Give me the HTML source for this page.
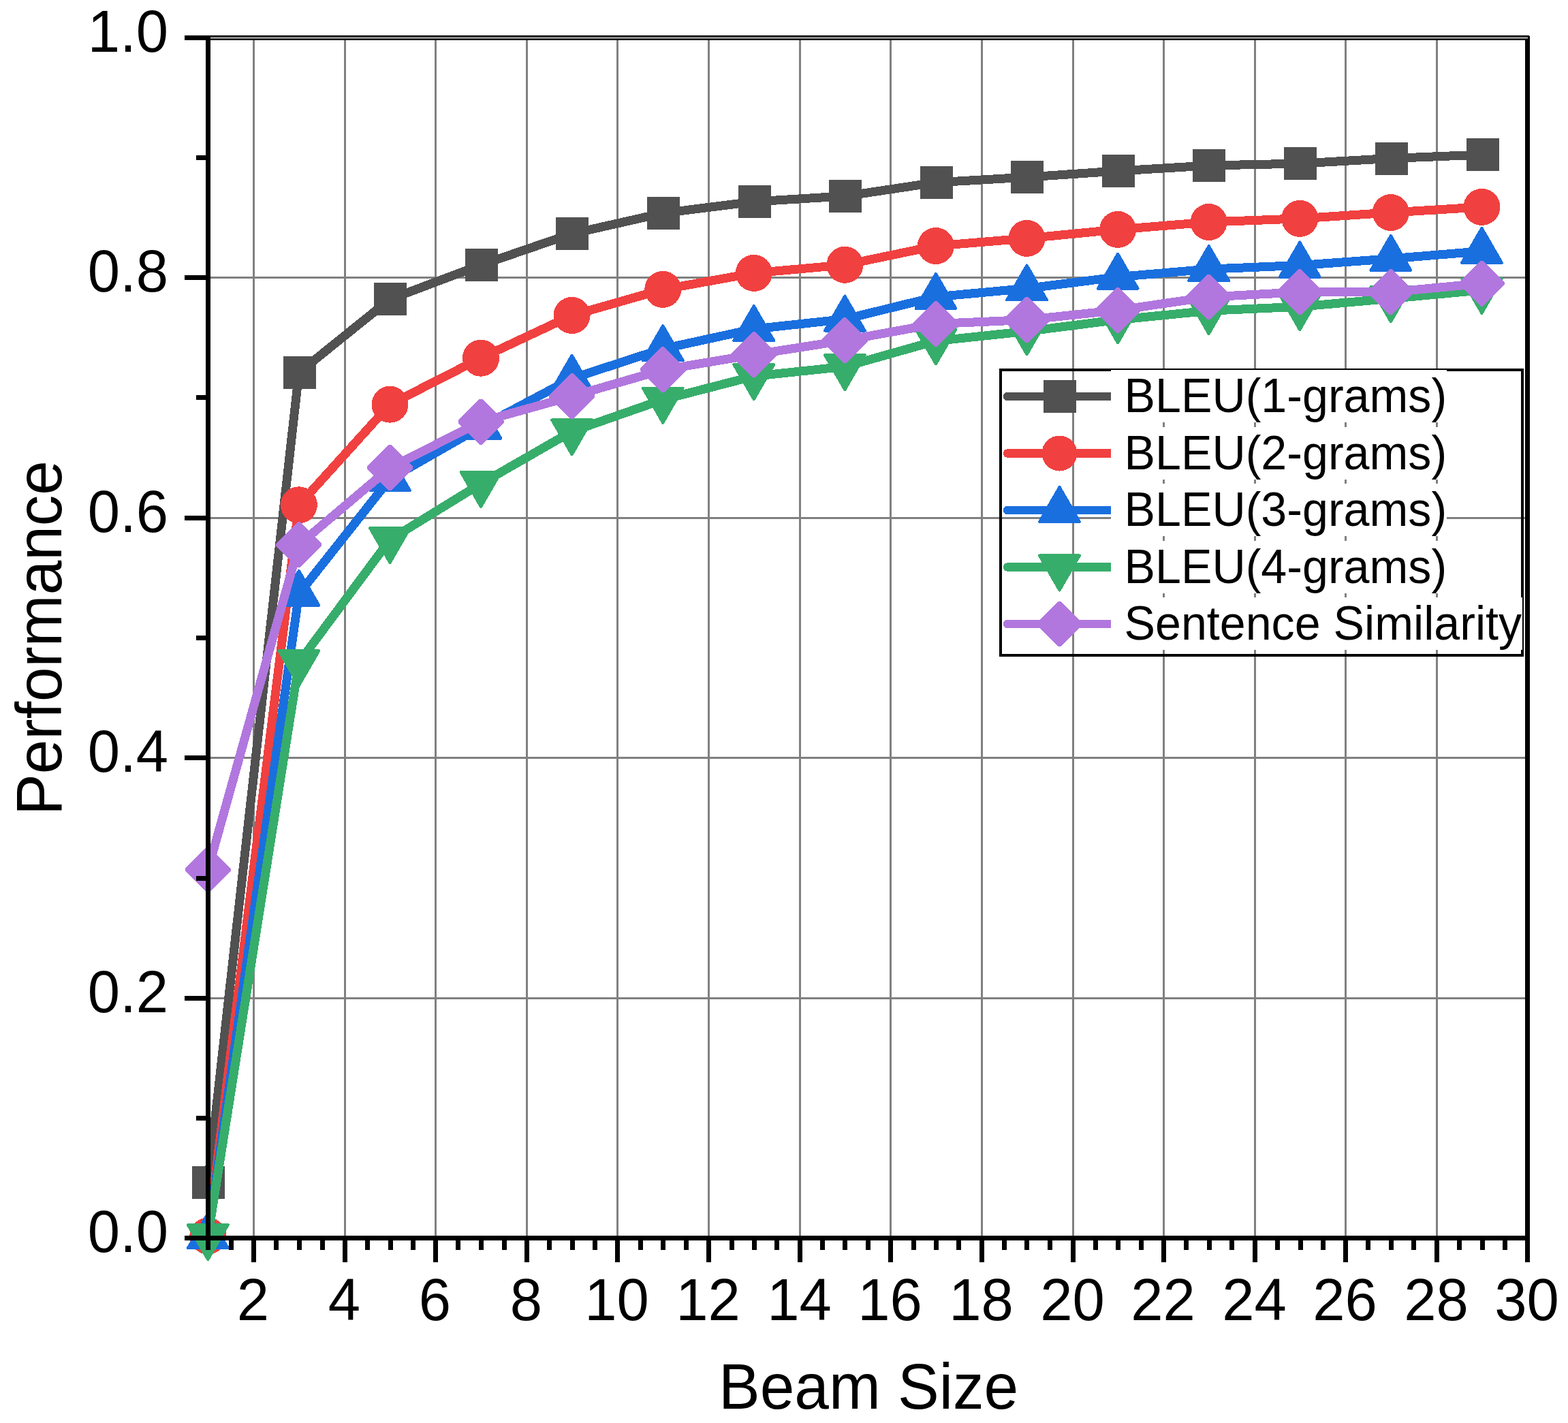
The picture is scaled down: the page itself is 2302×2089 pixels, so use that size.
<!DOCTYPE html>
<html lang="en"><head><meta charset="utf-8"><title>Performance vs Beam Size</title>
<style>
html,body{margin:0;padding:0;background:#fff;}
body{width:2302px;height:2089px;overflow:hidden;}
svg{display:block;}
text{font-family:"Liberation Sans",sans-serif;fill:#000;}
.tick{font-size:85px;}
.title{font-size:91px;}
.leg{font-size:68.2px;}
</style></head><body>
<svg width="2302" height="2089" viewBox="0 0 2302 2089" role="img" aria-label="Performance versus beam size">
<rect x="0" y="0" width="2302" height="2089" fill="#fff"/>
<g shape-rendering="crispEdges">
<rect x="271" y="52" width="1975" height="7" fill="#000"/>
<rect x="2239" y="52" width="7" height="1801" fill="#000"/>
<rect x="2245" y="52" width="1" height="1" fill="#fff"/>
<rect x="371" y="59" width="3" height="1755" fill="#808080"/>
<rect x="505" y="59" width="3" height="1755" fill="#808080"/>
<rect x="638" y="59" width="3" height="1755" fill="#808080"/>
<rect x="772" y="59" width="3" height="1755" fill="#808080"/>
<rect x="905" y="59" width="3" height="1755" fill="#808080"/>
<rect x="1039" y="59" width="3" height="1755" fill="#808080"/>
<rect x="1173" y="59" width="3" height="1755" fill="#808080"/>
<rect x="1306" y="59" width="3" height="1755" fill="#808080"/>
<rect x="1440" y="59" width="3" height="1755" fill="#808080"/>
<rect x="1574" y="59" width="3" height="1755" fill="#808080"/>
<rect x="1707" y="59" width="3" height="1755" fill="#808080"/>
<rect x="1841" y="59" width="3" height="1755" fill="#808080"/>
<rect x="1974" y="59" width="3" height="1755" fill="#808080"/>
<rect x="2108" y="59" width="3" height="1755" fill="#808080"/>
<rect x="309" y="1464" width="1930" height="3" fill="#808080"/>
<rect x="309" y="1111" width="1930" height="3" fill="#808080"/>
<rect x="309" y="759" width="1930" height="3" fill="#808080"/>
<rect x="309" y="406" width="1930" height="3" fill="#808080"/>
<rect x="309" y="54" width="1934" height="3" fill="#888"/>
</g>
<g shape-rendering="crispEdges">
<polyline points="305.3,1736.0 438.9,546.9 572.5,439.3 706.0,389.0 839.6,343.1 973.2,312.9 1106.8,296.0 1240.4,287.9 1373.9,267.9 1507.5,260.1 1641.1,251.0 1774.7,243.0 1908.3,240.1 2041.8,232.5 2175.4,227.1" fill="none" stroke="#515151" stroke-width="13" stroke-linejoin="round" stroke-linecap="round"/>
<rect x="282.0" y="1712.0" width="48" height="48" fill="#515151"/>
<rect x="415.6" y="522.9" width="48" height="48" fill="#515151"/>
<rect x="549.2" y="415.3" width="48" height="48" fill="#515151"/>
<rect x="682.7" y="365.0" width="48" height="48" fill="#515151"/>
<rect x="816.3" y="319.1" width="48" height="48" fill="#515151"/>
<rect x="949.9" y="288.9" width="48" height="48" fill="#515151"/>
<rect x="1083.5" y="272.0" width="48" height="48" fill="#515151"/>
<rect x="1217.1" y="263.9" width="48" height="48" fill="#515151"/>
<rect x="1350.6" y="243.9" width="48" height="48" fill="#515151"/>
<rect x="1484.2" y="236.1" width="48" height="48" fill="#515151"/>
<rect x="1617.8" y="227.0" width="48" height="48" fill="#515151"/>
<rect x="1751.4" y="219.0" width="48" height="48" fill="#515151"/>
<rect x="1885.0" y="216.1" width="48" height="48" fill="#515151"/>
<rect x="2018.5" y="208.5" width="48" height="48" fill="#515151"/>
<rect x="2153.1" y="203.1" width="48" height="48" fill="#515151"/>
<polyline points="305.3,1814.4 438.9,741.3 572.5,593.7 706.0,525.7 839.6,463.0 973.2,424.9 1106.8,400.9 1240.4,388.8 1373.9,361.0 1507.5,349.9 1641.1,336.9 1774.7,326.0 1908.3,320.9 2041.8,312.0 2175.4,303.9" fill="none" stroke="#F14040" stroke-width="13" stroke-linejoin="round" stroke-linecap="round"/>
<circle cx="305.3" cy="1814.4" r="27" fill="#F14040"/>
<circle cx="438.9" cy="741.3" r="27" fill="#F14040"/>
<circle cx="572.5" cy="593.7" r="27" fill="#F14040"/>
<circle cx="706.0" cy="525.7" r="27" fill="#F14040"/>
<circle cx="839.6" cy="463.0" r="27" fill="#F14040"/>
<circle cx="973.2" cy="424.9" r="27" fill="#F14040"/>
<circle cx="1106.8" cy="400.9" r="27" fill="#F14040"/>
<circle cx="1240.4" cy="388.8" r="27" fill="#F14040"/>
<circle cx="1373.9" cy="361.0" r="27" fill="#F14040"/>
<circle cx="1507.5" cy="349.9" r="27" fill="#F14040"/>
<circle cx="1641.1" cy="336.9" r="27" fill="#F14040"/>
<circle cx="1774.7" cy="326.0" r="27" fill="#F14040"/>
<circle cx="1908.3" cy="320.9" r="27" fill="#F14040"/>
<circle cx="2041.8" cy="312.0" r="27" fill="#F14040"/>
<circle cx="2175.4" cy="303.9" r="27" fill="#F14040"/>
<polyline points="305.3,1815.2 438.9,871.7 572.5,703.0 706.0,626.6 839.6,555.6 973.2,512.0 1106.8,483.0 1240.4,468.5 1373.9,435.8 1507.5,423.4 1641.1,406.6 1774.7,395.1 1908.3,389.5 2041.8,379.8 2175.4,368.8" fill="none" stroke="#1A6FDF" stroke-width="13" stroke-linejoin="round" stroke-linecap="round"/>
<polygon points="303.57,1780.14 304.30,1779.40 305.30,1779.14 306.30,1779.40 307.03,1780.14 336.53,1831.23 336.80,1832.23 336.53,1833.23 335.80,1833.96 334.80,1834.23 275.80,1834.23 274.80,1833.96 274.07,1833.23 273.80,1832.23 274.07,1831.23" fill="#1A6FDF"/>
<polygon points="437.15,836.64 437.88,835.90 438.88,835.64 439.88,835.90 440.61,836.64 470.11,887.73 470.38,888.73 470.11,889.73 469.38,890.46 468.38,890.73 409.38,890.73 408.38,890.46 407.65,889.73 407.38,888.73 407.65,887.73" fill="#1A6FDF"/>
<polygon points="570.73,667.94 571.46,667.20 572.46,666.94 573.46,667.20 574.19,667.94 603.69,719.03 603.96,720.03 603.69,721.03 602.96,721.76 601.96,722.03 542.96,722.03 541.96,721.76 541.23,721.03 540.96,720.03 541.23,719.03" fill="#1A6FDF"/>
<polygon points="704.31,591.54 705.04,590.80 706.04,590.54 707.04,590.80 707.77,591.54 737.27,642.63 737.54,643.63 737.27,644.63 736.54,645.36 735.54,645.63 676.54,645.63 675.54,645.36 674.81,644.63 674.54,643.63 674.81,642.63" fill="#1A6FDF"/>
<polygon points="837.89,520.54 838.62,519.80 839.62,519.54 840.62,519.80 841.35,520.54 870.85,571.63 871.12,572.63 870.85,573.63 870.12,574.36 869.12,574.63 810.12,574.63 809.12,574.36 808.39,573.63 808.12,572.63 808.39,571.63" fill="#1A6FDF"/>
<polygon points="971.47,476.94 972.20,476.20 973.20,475.94 974.20,476.20 974.93,476.94 1004.43,528.03 1004.70,529.03 1004.43,530.03 1003.70,530.76 1002.70,531.03 943.70,531.03 942.70,530.76 941.97,530.03 941.70,529.03 941.97,528.03" fill="#1A6FDF"/>
<polygon points="1105.05,447.94 1105.78,447.20 1106.78,446.94 1107.78,447.20 1108.51,447.94 1138.01,499.03 1138.28,500.03 1138.01,501.03 1137.28,501.76 1136.28,502.03 1077.28,502.03 1076.28,501.76 1075.55,501.03 1075.28,500.03 1075.55,499.03" fill="#1A6FDF"/>
<polygon points="1238.63,433.44 1239.36,432.70 1240.36,432.44 1241.36,432.70 1242.09,433.44 1271.59,484.53 1271.86,485.53 1271.59,486.53 1270.86,487.26 1269.86,487.53 1210.86,487.53 1209.86,487.26 1209.13,486.53 1208.86,485.53 1209.13,484.53" fill="#1A6FDF"/>
<polygon points="1372.21,400.74 1372.94,400.00 1373.94,399.74 1374.94,400.00 1375.67,400.74 1405.17,451.83 1405.44,452.83 1405.17,453.83 1404.44,454.56 1403.44,454.83 1344.44,454.83 1343.44,454.56 1342.71,453.83 1342.44,452.83 1342.71,451.83" fill="#1A6FDF"/>
<polygon points="1505.79,388.34 1506.52,387.60 1507.52,387.34 1508.52,387.60 1509.25,388.34 1538.75,439.43 1539.02,440.43 1538.75,441.43 1538.02,442.16 1537.02,442.43 1478.02,442.43 1477.02,442.16 1476.29,441.43 1476.02,440.43 1476.29,439.43" fill="#1A6FDF"/>
<polygon points="1639.37,371.54 1640.10,370.80 1641.10,370.54 1642.10,370.80 1642.83,371.54 1672.33,422.63 1672.60,423.63 1672.33,424.63 1671.60,425.36 1670.60,425.63 1611.60,425.63 1610.60,425.36 1609.87,424.63 1609.60,423.63 1609.87,422.63" fill="#1A6FDF"/>
<polygon points="1772.95,360.04 1773.68,359.30 1774.68,359.04 1775.68,359.30 1776.41,360.04 1805.91,411.13 1806.18,412.13 1805.91,413.13 1805.18,413.86 1804.18,414.13 1745.18,414.13 1744.18,413.86 1743.45,413.13 1743.18,412.13 1743.45,411.13" fill="#1A6FDF"/>
<polygon points="1906.53,354.44 1907.26,353.70 1908.26,353.44 1909.26,353.70 1909.99,354.44 1939.49,405.53 1939.76,406.53 1939.49,407.53 1938.76,408.26 1937.76,408.53 1878.76,408.53 1877.76,408.26 1877.03,407.53 1876.76,406.53 1877.03,405.53" fill="#1A6FDF"/>
<polygon points="2040.11,344.74 2040.84,344.00 2041.84,343.74 2042.84,344.00 2043.57,344.74 2073.07,395.83 2073.34,396.83 2073.07,397.83 2072.34,398.56 2071.34,398.83 2012.34,398.83 2011.34,398.56 2010.61,397.83 2010.34,396.83 2010.61,395.83" fill="#1A6FDF"/>
<polygon points="2173.69,333.74 2174.42,333.00 2175.42,332.74 2176.42,333.00 2177.15,333.74 2206.65,384.83 2206.92,385.83 2206.65,386.83 2205.92,387.56 2204.92,387.83 2145.92,387.83 2144.92,387.56 2144.19,386.83 2143.92,385.83 2144.19,384.83" fill="#1A6FDF"/>
<polyline points="305.3,1815.2 438.9,972.4 572.5,792.2 706.0,710.1 839.6,633.4 973.2,586.7 1106.8,552.3 1240.4,538.2 1373.9,500.5 1507.5,486.4 1641.1,469.4 1774.7,456.2 1908.3,450.2 2041.8,438.3 2175.4,425.9" fill="none" stroke="#37AD6B" stroke-width="13" stroke-linejoin="round" stroke-linecap="round"/>
<polygon points="274.07,1799.17 273.80,1798.17 274.07,1797.17 274.80,1796.44 275.80,1796.17 334.80,1796.17 335.80,1796.44 336.53,1797.17 336.80,1798.17 336.53,1799.17 307.03,1850.26 306.30,1851.00 305.30,1851.26 304.30,1851.00 303.57,1850.26" fill="#37AD6B"/>
<polygon points="407.65,956.37 407.38,955.37 407.65,954.37 408.38,953.64 409.38,953.37 468.38,953.37 469.38,953.64 470.11,954.37 470.38,955.37 470.11,956.37 440.61,1007.46 439.88,1008.20 438.88,1008.46 437.88,1008.20 437.15,1007.46" fill="#37AD6B"/>
<polygon points="541.23,776.17 540.96,775.17 541.23,774.17 541.96,773.44 542.96,773.17 601.96,773.17 602.96,773.44 603.69,774.17 603.96,775.17 603.69,776.17 574.19,827.26 573.46,828.00 572.46,828.26 571.46,828.00 570.73,827.26" fill="#37AD6B"/>
<polygon points="674.81,694.07 674.54,693.07 674.81,692.07 675.54,691.34 676.54,691.07 735.54,691.07 736.54,691.34 737.27,692.07 737.54,693.07 737.27,694.07 707.77,745.16 707.04,745.90 706.04,746.16 705.04,745.90 704.31,745.16" fill="#37AD6B"/>
<polygon points="808.39,617.37 808.12,616.37 808.39,615.37 809.12,614.64 810.12,614.37 869.12,614.37 870.12,614.64 870.85,615.37 871.12,616.37 870.85,617.37 841.35,668.46 840.62,669.20 839.62,669.46 838.62,669.20 837.89,668.46" fill="#37AD6B"/>
<polygon points="941.97,570.67 941.70,569.67 941.97,568.67 942.70,567.94 943.70,567.67 1002.70,567.67 1003.70,567.94 1004.43,568.67 1004.70,569.67 1004.43,570.67 974.93,621.76 974.20,622.50 973.20,622.76 972.20,622.50 971.47,621.76" fill="#37AD6B"/>
<polygon points="1075.55,536.27 1075.28,535.27 1075.55,534.27 1076.28,533.54 1077.28,533.27 1136.28,533.27 1137.28,533.54 1138.01,534.27 1138.28,535.27 1138.01,536.27 1108.51,587.36 1107.78,588.10 1106.78,588.36 1105.78,588.10 1105.05,587.36" fill="#37AD6B"/>
<polygon points="1209.13,522.17 1208.86,521.17 1209.13,520.17 1209.86,519.44 1210.86,519.17 1269.86,519.17 1270.86,519.44 1271.59,520.17 1271.86,521.17 1271.59,522.17 1242.09,573.26 1241.36,574.00 1240.36,574.26 1239.36,574.00 1238.63,573.26" fill="#37AD6B"/>
<polygon points="1342.71,484.47 1342.44,483.47 1342.71,482.47 1343.44,481.74 1344.44,481.47 1403.44,481.47 1404.44,481.74 1405.17,482.47 1405.44,483.47 1405.17,484.47 1375.67,535.56 1374.94,536.30 1373.94,536.56 1372.94,536.30 1372.21,535.56" fill="#37AD6B"/>
<polygon points="1476.29,470.37 1476.02,469.37 1476.29,468.37 1477.02,467.64 1478.02,467.37 1537.02,467.37 1538.02,467.64 1538.75,468.37 1539.02,469.37 1538.75,470.37 1509.25,521.46 1508.52,522.20 1507.52,522.46 1506.52,522.20 1505.79,521.46" fill="#37AD6B"/>
<polygon points="1609.87,453.37 1609.60,452.37 1609.87,451.37 1610.60,450.64 1611.60,450.37 1670.60,450.37 1671.60,450.64 1672.33,451.37 1672.60,452.37 1672.33,453.37 1642.83,504.46 1642.10,505.20 1641.10,505.46 1640.10,505.20 1639.37,504.46" fill="#37AD6B"/>
<polygon points="1743.45,440.17 1743.18,439.17 1743.45,438.17 1744.18,437.44 1745.18,437.17 1804.18,437.17 1805.18,437.44 1805.91,438.17 1806.18,439.17 1805.91,440.17 1776.41,491.26 1775.68,492.00 1774.68,492.26 1773.68,492.00 1772.95,491.26" fill="#37AD6B"/>
<polygon points="1877.03,434.17 1876.76,433.17 1877.03,432.17 1877.76,431.44 1878.76,431.17 1937.76,431.17 1938.76,431.44 1939.49,432.17 1939.76,433.17 1939.49,434.17 1909.99,485.26 1909.26,486.00 1908.26,486.26 1907.26,486.00 1906.53,485.26" fill="#37AD6B"/>
<polygon points="2010.61,422.27 2010.34,421.27 2010.61,420.27 2011.34,419.54 2012.34,419.27 2071.34,419.27 2072.34,419.54 2073.07,420.27 2073.34,421.27 2073.07,422.27 2043.57,473.36 2042.84,474.10 2041.84,474.36 2040.84,474.10 2040.11,473.36" fill="#37AD6B"/>
<polygon points="2144.19,409.87 2143.92,408.87 2144.19,407.87 2144.92,407.14 2145.92,406.87 2204.92,406.87 2205.92,407.14 2206.65,407.87 2206.92,408.87 2206.65,409.87 2177.15,460.96 2176.42,461.70 2175.42,461.96 2174.42,461.70 2173.69,460.96" fill="#37AD6B"/>
<polyline points="305.3,1276.8 438.9,799.7 572.5,686.7 706.0,619.1 839.6,581.8 973.2,542.9 1106.8,520.6 1240.4,499.7 1373.9,475.5 1507.5,469.5 1641.1,455.4 1774.7,436.0 1908.3,428.8 2041.8,428.8 2175.4,416.1" fill="none" stroke="#B177DE" stroke-width="13" stroke-linejoin="round" stroke-linecap="round"/>
<polygon points="303.53,1243.33 307.07,1243.33 338.77,1275.03 338.77,1278.57 307.07,1310.27 303.53,1310.27 271.83,1278.57 271.83,1275.03" fill="#B177DE"/>
<polygon points="437.11,766.23 440.65,766.23 472.35,797.93 472.35,801.47 440.65,833.17 437.11,833.17 405.41,801.47 405.41,797.93" fill="#B177DE"/>
<polygon points="570.69,653.23 574.23,653.23 605.93,684.93 605.93,688.47 574.23,720.17 570.69,720.17 538.99,688.47 538.99,684.93" fill="#B177DE"/>
<polygon points="704.27,585.63 707.81,585.63 739.51,617.33 739.51,620.87 707.81,652.57 704.27,652.57 672.57,620.87 672.57,617.33" fill="#B177DE"/>
<polygon points="837.85,548.33 841.39,548.33 873.09,580.03 873.09,583.57 841.39,615.27 837.85,615.27 806.15,583.57 806.15,580.03" fill="#B177DE"/>
<polygon points="971.43,509.43 974.97,509.43 1006.67,541.13 1006.67,544.67 974.97,576.37 971.43,576.37 939.73,544.67 939.73,541.13" fill="#B177DE"/>
<polygon points="1105.01,487.13 1108.55,487.13 1140.25,518.83 1140.25,522.37 1108.55,554.07 1105.01,554.07 1073.31,522.37 1073.31,518.83" fill="#B177DE"/>
<polygon points="1238.59,466.23 1242.13,466.23 1273.83,497.93 1273.83,501.47 1242.13,533.17 1238.59,533.17 1206.89,501.47 1206.89,497.93" fill="#B177DE"/>
<polygon points="1372.17,442.03 1375.71,442.03 1407.41,473.73 1407.41,477.27 1375.71,508.97 1372.17,508.97 1340.47,477.27 1340.47,473.73" fill="#B177DE"/>
<polygon points="1505.75,436.03 1509.29,436.03 1540.99,467.73 1540.99,471.27 1509.29,502.97 1505.75,502.97 1474.05,471.27 1474.05,467.73" fill="#B177DE"/>
<polygon points="1639.33,421.93 1642.87,421.93 1674.57,453.63 1674.57,457.17 1642.87,488.87 1639.33,488.87 1607.63,457.17 1607.63,453.63" fill="#B177DE"/>
<polygon points="1772.91,402.53 1776.45,402.53 1808.15,434.23 1808.15,437.77 1776.45,469.47 1772.91,469.47 1741.21,437.77 1741.21,434.23" fill="#B177DE"/>
<polygon points="1906.49,395.33 1910.03,395.33 1941.73,427.03 1941.73,430.57 1910.03,462.27 1906.49,462.27 1874.79,430.57 1874.79,427.03" fill="#B177DE"/>
<polygon points="2040.07,395.33 2043.61,395.33 2075.31,427.03 2075.31,430.57 2043.61,462.27 2040.07,462.27 2008.37,430.57 2008.37,427.03" fill="#B177DE"/>
<polygon points="2173.65,382.63 2177.19,382.63 2208.89,414.33 2208.89,417.87 2177.19,449.57 2173.65,449.57 2141.95,417.87 2141.95,414.33" fill="#B177DE"/>
</g>
<g shape-rendering="crispEdges" fill="#000">
<rect x="302" y="52" width="7" height="1783"/>
<rect x="271" y="1814" width="1975" height="7"/>
<rect x="271" y="52" width="31" height="7"/>
<rect x="271" y="404" width="31" height="7"/>
<rect x="271" y="757" width="31" height="7"/>
<rect x="271" y="1109" width="31" height="7"/>
<rect x="271" y="1462" width="31" height="7"/>
<rect x="271" y="1814" width="31" height="7"/>
<rect x="288" y="228" width="14" height="7"/>
<rect x="288" y="580" width="14" height="7"/>
<rect x="288" y="933" width="14" height="7"/>
<rect x="288" y="1286" width="14" height="7"/>
<rect x="288" y="1638" width="14" height="7"/>
<rect x="336" y="1821" width="7" height="14"/>
<rect x="369" y="1821" width="7" height="32"/>
<rect x="402" y="1821" width="7" height="14"/>
<rect x="436" y="1821" width="7" height="14"/>
<rect x="470" y="1821" width="7" height="14"/>
<rect x="503" y="1821" width="7" height="32"/>
<rect x="536" y="1821" width="7" height="14"/>
<rect x="570" y="1821" width="7" height="14"/>
<rect x="603" y="1821" width="7" height="14"/>
<rect x="636" y="1821" width="7" height="32"/>
<rect x="669" y="1821" width="7" height="14"/>
<rect x="703" y="1821" width="7" height="14"/>
<rect x="737" y="1821" width="7" height="14"/>
<rect x="770" y="1821" width="7" height="32"/>
<rect x="803" y="1821" width="7" height="14"/>
<rect x="837" y="1821" width="7" height="14"/>
<rect x="870" y="1821" width="7" height="14"/>
<rect x="903" y="1821" width="7" height="32"/>
<rect x="937" y="1821" width="7" height="14"/>
<rect x="970" y="1821" width="7" height="14"/>
<rect x="1004" y="1821" width="7" height="14"/>
<rect x="1037" y="1821" width="7" height="32"/>
<rect x="1071" y="1821" width="7" height="14"/>
<rect x="1104" y="1821" width="7" height="14"/>
<rect x="1137" y="1821" width="7" height="14"/>
<rect x="1171" y="1821" width="7" height="32"/>
<rect x="1204" y="1821" width="7" height="14"/>
<rect x="1237" y="1821" width="7" height="14"/>
<rect x="1271" y="1821" width="7" height="14"/>
<rect x="1304" y="1821" width="7" height="32"/>
<rect x="1338" y="1821" width="7" height="14"/>
<rect x="1371" y="1821" width="7" height="14"/>
<rect x="1404" y="1821" width="7" height="14"/>
<rect x="1438" y="1821" width="7" height="32"/>
<rect x="1471" y="1821" width="7" height="14"/>
<rect x="1504" y="1821" width="7" height="14"/>
<rect x="1538" y="1821" width="7" height="14"/>
<rect x="1572" y="1821" width="7" height="32"/>
<rect x="1605" y="1821" width="7" height="14"/>
<rect x="1638" y="1821" width="7" height="14"/>
<rect x="1672" y="1821" width="7" height="14"/>
<rect x="1705" y="1821" width="7" height="32"/>
<rect x="1738" y="1821" width="7" height="14"/>
<rect x="1772" y="1821" width="7" height="14"/>
<rect x="1805" y="1821" width="7" height="14"/>
<rect x="1839" y="1821" width="7" height="32"/>
<rect x="1872" y="1821" width="7" height="14"/>
<rect x="1906" y="1821" width="7" height="14"/>
<rect x="1939" y="1821" width="7" height="14"/>
<rect x="1972" y="1821" width="7" height="32"/>
<rect x="2005" y="1821" width="7" height="14"/>
<rect x="2039" y="1821" width="7" height="14"/>
<rect x="2072" y="1821" width="7" height="14"/>
<rect x="2106" y="1821" width="7" height="32"/>
<rect x="2139" y="1821" width="7" height="14"/>
<rect x="2173" y="1821" width="7" height="14"/>
<rect x="2206" y="1821" width="7" height="14"/>
<rect x="2239" y="1821" width="7" height="32"/>
</g>
<text class="tick" transform="translate(247.0,1837.5) scale(1,1.03)" text-anchor="end">0.0</text>
<text class="tick" transform="translate(247.0,1485.5) scale(1,1.03)" text-anchor="end">0.2</text>
<text class="tick" transform="translate(247.0,1132.5) scale(1,1.03)" text-anchor="end">0.4</text>
<text class="tick" transform="translate(247.0,780.5) scale(1,1.03)" text-anchor="end">0.6</text>
<text class="tick" transform="translate(247.0,427.5) scale(1,1.03)" text-anchor="end">0.8</text>
<text class="tick" transform="translate(247.0,75.5) scale(1,1.03)" text-anchor="end">1.0</text>
<text class="tick" transform="translate(371.5,1938.0) scale(1,1.03)" text-anchor="middle">2</text>
<text class="tick" transform="translate(505.5,1938.0) scale(1,1.03)" text-anchor="middle">4</text>
<text class="tick" transform="translate(638.5,1938.0) scale(1,1.03)" text-anchor="middle">6</text>
<text class="tick" transform="translate(772.5,1938.0) scale(1,1.03)" text-anchor="middle">8</text>
<text class="tick" transform="translate(905.5,1938.0) scale(1,1.03)" text-anchor="middle">10</text>
<text class="tick" transform="translate(1039.5,1938.0) scale(1,1.03)" text-anchor="middle">12</text>
<text class="tick" transform="translate(1173.5,1938.0) scale(1,1.03)" text-anchor="middle">14</text>
<text class="tick" transform="translate(1306.5,1938.0) scale(1,1.03)" text-anchor="middle">16</text>
<text class="tick" transform="translate(1440.5,1938.0) scale(1,1.03)" text-anchor="middle">18</text>
<text class="tick" transform="translate(1574.5,1938.0) scale(1,1.03)" text-anchor="middle">20</text>
<text class="tick" transform="translate(1707.5,1938.0) scale(1,1.03)" text-anchor="middle">22</text>
<text class="tick" transform="translate(1841.5,1938.0) scale(1,1.03)" text-anchor="middle">24</text>
<text class="tick" transform="translate(1974.5,1938.0) scale(1,1.03)" text-anchor="middle">26</text>
<text class="tick" transform="translate(2108.5,1938.0) scale(1,1.03)" text-anchor="middle">28</text>
<text class="tick" transform="translate(2241.5,1938.0) scale(1,1.03)" text-anchor="middle">30</text>
<text class="title" transform="translate(1275.0,2068.0) scale(1,1.03)" text-anchor="middle">Beam Size</text>
<text class="title" transform="translate(90.3,936.5) rotate(-90) scale(1,1.03)" text-anchor="middle">Performance</text>
<g shape-rendering="crispEdges">
<rect x="1469" y="543" width="766" height="419" fill="none" stroke="#000" stroke-width="4"/>
<line x1="1479" y1="582" x2="1633" y2="582" stroke="#515151" stroke-width="12.5" stroke-linecap="round"/>
<rect x="1531.5" y="558.0" width="48" height="48" fill="#515151"/>
<line x1="1479" y1="665.5" x2="1633" y2="665.5" stroke="#F14040" stroke-width="12.5" stroke-linecap="round"/>
<circle cx="1555.5" cy="665.5" r="26" fill="#F14040"/>
<line x1="1479" y1="749" x2="1633" y2="749" stroke="#1A6FDF" stroke-width="12.5" stroke-linecap="round"/>
<polygon points="1553.77,713.94 1554.50,713.20 1555.50,712.94 1556.50,713.20 1557.23,713.94 1586.73,765.03 1587.00,766.03 1586.73,767.03 1586.00,767.76 1585.00,768.03 1526.00,768.03 1525.00,767.76 1524.27,767.03 1524.00,766.03 1524.27,765.03" fill="#1A6FDF"/>
<line x1="1479" y1="832.5" x2="1633" y2="832.5" stroke="#37AD6B" stroke-width="12.5" stroke-linecap="round"/>
<polygon points="1524.27,816.47 1524.00,815.47 1524.27,814.47 1525.00,813.74 1526.00,813.47 1585.00,813.47 1586.00,813.74 1586.73,814.47 1587.00,815.47 1586.73,816.47 1557.23,867.56 1556.50,868.30 1555.50,868.56 1554.50,868.30 1553.77,867.56" fill="#37AD6B"/>
<line x1="1479" y1="916" x2="1633" y2="916" stroke="#B177DE" stroke-width="12.5" stroke-linecap="round"/>
<polygon points="1553.73,882.53 1557.27,882.53 1588.97,914.23 1588.97,917.77 1557.27,949.47 1553.73,949.47 1522.03,917.77 1522.03,914.23" fill="#B177DE"/>
<rect x="1631" y="543" width="493" height="77" fill="#fff"/>
<rect x="1631" y="627" width="493" height="77" fill="#fff"/>
<rect x="1631" y="710" width="493" height="77" fill="#fff"/>
<rect x="1631" y="794" width="493" height="77" fill="#fff"/>
<rect x="1631" y="877" width="604" height="77" fill="#fff"/>
</g>
<text class="leg" transform="translate(1650.5,605.3) scale(1,1.035)" text-anchor="start">BLEU(1-grams)</text>
<text class="leg" transform="translate(1650.5,688.8) scale(1,1.035)" text-anchor="start">BLEU(2-grams)</text>
<text class="leg" transform="translate(1650.5,772.3) scale(1,1.035)" text-anchor="start">BLEU(3-grams)</text>
<text class="leg" transform="translate(1650.5,855.8) scale(1,1.035)" text-anchor="start">BLEU(4-grams)</text>
<text class="leg" transform="translate(1650.5,939.3) scale(1,1.035)" text-anchor="start">Sentence Similarity</text>
</svg></body></html>
